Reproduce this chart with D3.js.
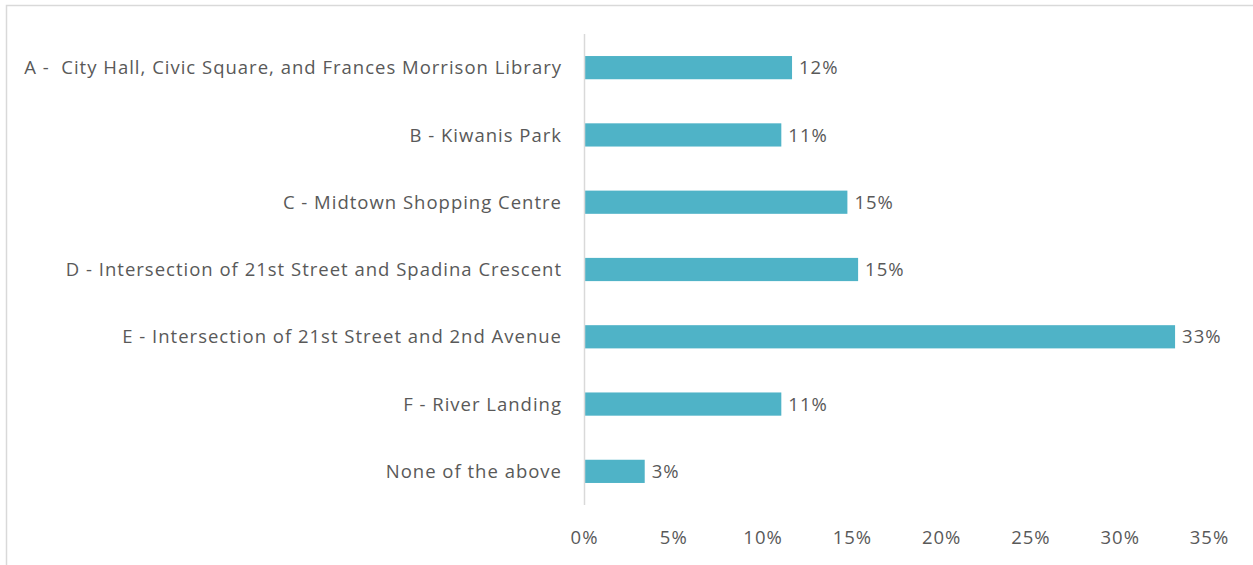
<!DOCTYPE html>
<html>
<head>
<meta charset="utf-8">
<script src="https://cdn.jsdelivr.net/npm/d3@7"></script>
<style>
  body { margin: 0; background: #fff; }
  text { font-family: 'Open Sans', 'Noto Sans', sans-serif; fill: #595959; white-space: pre; letter-spacing: 1px; }
</style>
</head>
<body>
<div id="chart"></div>
<script>
const categories = [
  'A -  City Hall, Civic Square, and Frances Morrison Library',
  'B - Kiwanis Park',
  'C - Midtown Shopping Centre',
  'D - Intersection of 21st Street and Spadina Crescent',
  'E - Intersection of 21st Street and 2nd Avenue',
  'F - River Landing',
  'None of the above'
]
const values = [11.65, 11.05, 14.75, 15.35, 33.1, 11.05, 3.4]
const valueLabels = ['12%', '11%', '15%', '15%', '33%', '11%', '3%']
const ticks = [0, 5, 10, 15, 20, 25, 30, 35]

const W = 1253
const H = 565
const margin = { top: 34, right: 44, bottom: 60, left: 584 }
const width = W - margin.left - margin.right
const height = H - margin.top - margin.bottom
const fontSize = 18.5

const root = d3.select('#chart')
  .append('svg')
  .attr('width', W)
  .attr('height', H)

// chart frame (only top and left edges show in the picture)
root.append('rect')
  .attr('x', 6.5)
  .attr('y', 5.5)
  .attr('width', W + 20)
  .attr('height', H + 20)
  .attr('fill', 'none')
  .attr('stroke', '#d9d9d9')
  .attr('stroke-width', 1.5)

const svg = root.append('g')
  .attr('transform', 'translate(' + margin.left + ',' + margin.top + ')')

const x = d3.scaleLinear().domain([0, 35]).range([0, 625])

const y = d3.scaleBand()
  .domain(categories)
  .range([0, 471])
  .paddingInner(0.655)
  .paddingOuter(0.3275)

svg.selectAll('.bar')
  .data(values)
  .enter()
  .append('rect')
  .attr('class', 'bar')
  .attr('x', x(0))
  .attr('y', (d, i) => y(categories[i]))
  .attr('width', d => x(d) - x(0))
  .attr('height', y.bandwidth())
  .attr('fill', '#4fb3c7')

svg.selectAll('.val')
  .data(values)
  .enter()
  .append('text')
  .attr('class', 'val')
  .attr('x', d => x(d) + 7)
  .attr('y', (d, i) => y(categories[i]) + y.bandwidth() / 2)
  .attr('dy', '0.36em')
  .attr('font-size', fontSize)
  .text((d, i) => valueLabels[i])

// category labels
svg.selectAll('.cat')
  .data(categories)
  .enter()
  .append('text')
  .attr('class', 'cat')
  .attr('x', -22)
  .attr('y', d => y(d) + y.bandwidth() / 2)
  .attr('dy', '0.36em')
  .attr('text-anchor', 'end')
  .attr('font-size', fontSize)
  .text(d => d)

// vertical axis line
svg.append('line')
  .attr('x1', 0.5)
  .attr('x2', 0.5)
  .attr('y1', 0)
  .attr('y2', height)
  .attr('stroke', '#d9d9d9')
  .attr('stroke-width', 1.5)

const xAxis = d3.axisBottom(x)
  .tickValues(ticks)
  .tickSize(0)
  .tickPadding(0)
  .tickFormat(d => d + '%')

const gx = svg.append('g')
  .attr('class', 'x-axis')
  .attr('transform', 'translate(0,' + (height + 26) + ')')
  .call(xAxis)

gx.select('.domain').remove()
gx.selectAll('text')
  .attr('font-size', fontSize)
  .attr('fill', '#595959')
  .style('font-family', "'Open Sans', 'Noto Sans', sans-serif")
</script>
</body>
</html>
